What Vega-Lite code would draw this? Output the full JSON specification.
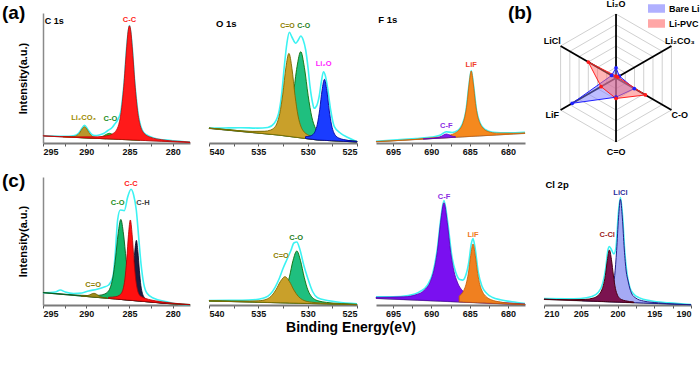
{
"$schema":"https://vega.github.io/schema/vega-lite/v6.json",
"background":"white",
"padding":{"left":2,"top":0,"right":0,"bottom":4},
"config":{
"view":{"stroke":null},
"font":"Liberation Sans",
"text":{"font":"Liberation Sans","fontWeight":"bold"},
"axisX":{"domainColor":"#7a7a7a","domainWidth":2.2,"tickColor":"#555555","tickSize":3,"tickWidth":1,"labelFont":"Liberation Sans","labelFontSize":9,"labelFontWeight":"bold","labelColor":"#111111","labelPadding":1,"grid":false},
"axisY":{"grid":false}
},
"title":{"text":"Binding Energy(eV)","orient":"bottom","anchor":"middle","fontSize":14,"fontWeight":"bold","font":"Liberation Sans","color":"#000000","offset":3},
"columns":4,
"spacing":{"row":34,"column":19},
"align":"each",
"bounds":"flush",
"resolve":{"scale":{"x":"independent","y":"independent","fill":"independent","stroke":"independent","size":"independent","color":"independent"},"axis":{"x":"independent","y":"independent"}},
"datasets":{
"a1":[
{"c":"bg","x":295,"hi":7},{"c":"bg","x":278,"hi":0.5},
{"c":"env","x":295,"hi":7.2},{"c":"env","x":294,"hi":6.9},{"c":"env","x":293,"hi":6.8},{"c":"env","x":292,"hi":6.8},{"c":"env","x":291.5,"hi":7.1},{"c":"env","x":291,"hi":8.8},{"c":"env","x":290.6,"hi":13.3},{"c":"env","x":290.2,"hi":17.8},{"c":"env","x":289.8,"hi":13.3},{"c":"env","x":289.4,"hi":8.8},{"c":"env","x":289,"hi":7.4},{"c":"env","x":288.5,"hi":8},{"c":"env","x":288,"hi":9.5},{"c":"env","x":287.5,"hi":12.5},{"c":"env","x":287,"hi":15.5},{"c":"env","x":286.7,"hi":19},{"c":"env","x":286.4,"hi":22.5},{"c":"env","x":286.2,"hi":26},{"c":"env","x":286,"hi":31.5},{"c":"env","x":285.8,"hi":45},{"c":"env","x":285.6,"hi":62.5},{"c":"env","x":285.3,"hi":98.2},{"c":"env","x":285,"hi":117.5},{"c":"env","x":284.7,"hi":97.9},{"c":"env","x":284.4,"hi":61.8},{"c":"env","x":284.2,"hi":44},{"c":"env","x":284,"hi":29.5},{"c":"env","x":283.7,"hi":17},{"c":"env","x":283.5,"hi":12.5},{"c":"env","x":283,"hi":8},{"c":"env","x":282,"hi":4.6},{"c":"env","x":281,"hi":3.1},{"c":"env","x":280,"hi":2.2},{"c":"env","x":278,"hi":1},
{"c":"L2C","x":292.7,"lo":6.12,"hi":6.33},{"c":"L2C","x":291.7,"lo":5.74,"hi":6.31},{"c":"L2C","x":291.2,"lo":5.55,"hi":7},{"c":"L2C","x":290.95,"lo":5.45,"hi":8.35},{"c":"L2C","x":290.7,"lo":5.36,"hi":10.91},{"c":"L2C","x":290.45,"lo":5.26,"hi":14.36},{"c":"L2C","x":290.2,"lo":5.17,"hi":16.27},{"c":"L2C","x":289.95,"lo":5.07,"hi":14.17},{"c":"L2C","x":289.7,"lo":4.97,"hi":10.52},{"c":"L2C","x":289.45,"lo":4.88,"hi":7.78},{"c":"L2C","x":289.2,"lo":4.78,"hi":6.23},{"c":"L2C","x":288.7,"lo":4.59,"hi":5.16},{"c":"L2C","x":287.7,"lo":4.21,"hi":4.42},
{"c":"CO","x":290.8,"lo":5.4,"hi":5.51},{"c":"CO","x":289.4,"lo":4.86,"hi":5.15},{"c":"CO","x":288.7,"lo":4.59,"hi":5.32},{"c":"CO","x":288.35,"lo":4.45,"hi":5.9},{"c":"CO","x":288,"lo":4.32,"hi":7.12},{"c":"CO","x":287.65,"lo":4.19,"hi":8.78},{"c":"CO","x":287.3,"lo":4.06,"hi":9.66},{"c":"CO","x":286.95,"lo":3.92,"hi":8.51},{"c":"CO","x":286.6,"lo":3.78,"hi":6.58},{"c":"CO","x":286.25,"lo":3.66,"hi":5.11},{"c":"CO","x":285.9,"lo":3.52,"hi":4.25},{"c":"CO","x":285.2,"lo":3.25,"hi":3.54},{"c":"CO","x":283.8,"lo":2.72,"hi":2.83},
{"c":"CC","x":295,"lo":7,"hi":7.22},{"c":"CC","x":291.2,"lo":5.55,"hi":6.12},{"c":"CC","x":288.72,"lo":4.6,"hi":6.14},{"c":"CC","x":287.48,"lo":4.13,"hi":7.48},{"c":"CC","x":286.86,"lo":3.89,"hi":9.69},{"c":"CC","x":286.55,"lo":3.77,"hi":12.37},{"c":"CC","x":286.24,"lo":3.65,"hi":18.55},{"c":"CC","x":285.93,"lo":3.53,"hi":33.03},{"c":"CC","x":285.78,"lo":3.48,"hi":44.98},{"c":"CC","x":285.62,"lo":3.41,"hi":60.41},{"c":"CC","x":285.47,"lo":3.36,"hi":78.46},{"c":"CC","x":285.31,"lo":3.3,"hi":96.8},{"c":"CC","x":285.16,"lo":3.24,"hi":111.54},{"c":"CC","x":285,"lo":3.18,"hi":117.18},{"c":"CC","x":284.84,"lo":3.12,"hi":111.42},{"c":"CC","x":284.69,"lo":3.06,"hi":96.56},{"c":"CC","x":284.53,"lo":3,"hi":78.1},{"c":"CC","x":284.38,"lo":2.94,"hi":59.94},{"c":"CC","x":284.22,"lo":2.88,"hi":44.38},{"c":"CC","x":284.07,"lo":2.82,"hi":32.32},{"c":"CC","x":283.76,"lo":2.7,"hi":17.6},{"c":"CC","x":283.45,"lo":2.58,"hi":11.18},{"c":"CC","x":283.14,"lo":2.47,"hi":8.27},{"c":"CC","x":282.52,"lo":2.23,"hi":5.58},{"c":"CC","x":281.28,"lo":1.75,"hi":3.29},{"c":"CC","x":278.8,"lo":0.81,"hi":1.38},{"c":"CC","x":278,"lo":0.5,"hi":0.94}
],
"a2":[
{"c":"bg","x":540,"hi":14.7},{"c":"bg","x":535,"hi":9.9},{"c":"bg","x":533,"hi":8},{"c":"bg","x":531,"hi":5.5},{"c":"bg","x":529,"hi":3},{"c":"bg","x":527,"hi":2},{"c":"bg","x":525,"hi":1},
{"c":"env","x":540,"hi":14.7},{"c":"env","x":538.5,"hi":15},{"c":"env","x":536.8,"hi":15.3},{"c":"env","x":535.1,"hi":14.9},{"c":"env","x":534.05,"hi":15.5},{"c":"env","x":533.38,"hi":19.7},{"c":"env","x":532.87,"hi":33},{"c":"env","x":532.6,"hi":52},{"c":"env","x":532.37,"hi":76.3},{"c":"env","x":532.1,"hi":100},{"c":"env","x":531.86,"hi":110.7},{"c":"env","x":531.6,"hi":106},{"c":"env","x":531.2,"hi":99.7},{"c":"env","x":530.95,"hi":103},{"c":"env","x":530.7,"hi":107},{"c":"env","x":530.45,"hi":103},{"c":"env","x":530.2,"hi":93},{"c":"env","x":529.96,"hi":75},{"c":"env","x":529.76,"hi":56.3},{"c":"env","x":529.5,"hi":40},{"c":"env","x":529.35,"hi":34.7},{"c":"env","x":529.1,"hi":37},{"c":"env","x":528.84,"hi":46.3},{"c":"env","x":528.6,"hi":62},{"c":"env","x":528.4,"hi":71.3},{"c":"env","x":528.2,"hi":67},{"c":"env","x":528,"hi":56.3},{"c":"env","x":527.67,"hi":33},{"c":"env","x":527.3,"hi":16.3},{"c":"env","x":526.65,"hi":9.7},{"c":"env","x":525.97,"hi":5.7},{"c":"env","x":525.06,"hi":1.5},
{"c":"CO","x":540,"lo":14.7,"hi":14.98},{"c":"CO","x":538.2,"lo":12.98,"hi":13.41},{"c":"CO","x":535.2,"lo":10.11,"hi":11.27},{"c":"CO","x":533.7,"lo":8.67,"hi":11.2},{"c":"CO","x":532.95,"lo":7.94,"hi":12.34},{"c":"CO","x":532.58,"lo":7.48,"hi":14},{"c":"CO","x":532.2,"lo":7,"hi":18.3},{"c":"CO","x":531.83,"lo":6.54,"hi":28.84},{"c":"CO","x":531.45,"lo":6.06,"hi":49.16},{"c":"CO","x":531.08,"lo":5.6,"hi":76.3},{"c":"CO","x":530.7,"lo":5.13,"hi":91.33},{"c":"CO","x":530.33,"lo":4.66,"hi":75.36},{"c":"CO","x":529.95,"lo":4.19,"hi":47.29},{"c":"CO","x":529.58,"lo":3.73,"hi":26.03},{"c":"CO","x":529.2,"lo":3.25,"hi":14.55},{"c":"CO","x":528.83,"lo":2.92,"hi":9.44},{"c":"CO","x":528.45,"lo":2.73,"hi":7.13},{"c":"CO","x":527.7,"lo":2.35,"hi":4.88},{"c":"CO","x":526.2,"lo":1.6,"hi":2.76},{"c":"CO","x":525,"lo":1,"hi":1.73},
{"c":"CdO","x":540,"lo":14.7,"hi":14.94},{"c":"CdO","x":538.1,"lo":12.88,"hi":13.3},{"c":"CdO","x":535.62,"lo":10.51,"hi":11.63},{"c":"CdO","x":534.38,"lo":9.32,"hi":11.76},{"c":"CdO","x":533.76,"lo":8.73,"hi":12.96},{"c":"CdO","x":533.45,"lo":8.43,"hi":14.7},{"c":"CdO","x":533.14,"lo":8.13,"hi":19.03},{"c":"CdO","x":532.83,"lo":7.79,"hi":29.29},{"c":"CdO","x":532.52,"lo":7.4,"hi":48.9},{"c":"CdO","x":532.21,"lo":7.01,"hi":75.11},{"c":"CdO","x":531.9,"lo":6.63,"hi":89.63},{"c":"CdO","x":531.59,"lo":6.24,"hi":74.34},{"c":"CdO","x":531.28,"lo":5.85,"hi":47.35},{"c":"CdO","x":530.97,"lo":5.46,"hi":26.96},{"c":"CdO","x":530.66,"lo":5.08,"hi":15.98},{"c":"CdO","x":530.35,"lo":4.69,"hi":10.96},{"c":"CdO","x":530.04,"lo":4.3,"hi":8.53},{"c":"CdO","x":529.42,"lo":3.53,"hi":5.97},{"c":"CdO","x":528.18,"lo":2.59,"hi":3.71},{"c":"CdO","x":525.7,"lo":1.35,"hi":1.77},{"c":"CdO","x":525,"lo":1,"hi":1.33},
{"c":"L2O","x":530.22,"lo":4.53,"hi":6.32},{"c":"L2O","x":529.74,"lo":3.93,"hi":7.04},{"c":"L2O","x":529.5,"lo":3.63,"hi":8.24},{"c":"L2O","x":529.26,"lo":3.33,"hi":11.33},{"c":"L2O","x":529.02,"lo":3.03,"hi":18.83},{"c":"L2O","x":528.78,"lo":2.89,"hi":33.39},{"c":"L2O","x":528.54,"lo":2.77,"hi":52.77},{"c":"L2O","x":528.3,"lo":2.65,"hi":63.65},{"c":"L2O","x":528.06,"lo":2.53,"hi":52.53},{"c":"L2O","x":527.82,"lo":2.41,"hi":32.91},{"c":"L2O","x":527.58,"lo":2.29,"hi":18.09},{"c":"L2O","x":527.34,"lo":2.17,"hi":10.17},{"c":"L2O","x":527.1,"lo":2.05,"hi":6.66},{"c":"L2O","x":526.86,"lo":1.93,"hi":5.04},{"c":"L2O","x":526.38,"lo":1.69,"hi":3.48},{"c":"L2O","x":525.42,"lo":1.21,"hi":2.03},{"c":"L2O","x":525,"lo":1,"hi":1.64}
],
"a3":[
{"c":"bg","x":697.2,"hi":1.3},{"c":"bg","x":677.8,"hi":9.7},
{"c":"env","x":697.2,"hi":1.8},{"c":"env","x":694,"hi":3.4},{"c":"env","x":692,"hi":4.5},{"c":"env","x":690.5,"hi":5.4},{"c":"env","x":689.5,"hi":6.4},{"c":"env","x":688.8,"hi":8},{"c":"env","x":688.05,"hi":11.3},{"c":"env","x":687.3,"hi":10.5},{"c":"env","x":686.6,"hi":12.3},{"c":"env","x":686,"hi":18.1},{"c":"env","x":685.5,"hi":31.7},{"c":"env","x":685.1,"hi":57.3},{"c":"env","x":684.8,"hi":72.5},{"c":"env","x":684.5,"hi":57.6},{"c":"env","x":684.1,"hi":32.3},{"c":"env","x":683.6,"hi":19.1},{"c":"env","x":683,"hi":13.5},{"c":"env","x":682,"hi":10.8},{"c":"env","x":680,"hi":10.1},{"c":"env","x":677.8,"hi":10.6},
{"c":"LiF","x":697.2,"lo":1.3,"hi":1.43},{"c":"LiF","x":690.3,"lo":4.29,"hi":4.94},{"c":"LiF","x":688.1,"lo":5.24,"hi":7},{"c":"LiF","x":687,"lo":5.72,"hi":9.56},{"c":"LiF","x":686.45,"lo":5.95,"hi":12.48},{"c":"LiF","x":685.9,"lo":6.19,"hi":19.25},{"c":"LiF","x":685.63,"lo":6.31,"hi":26.39},{"c":"LiF","x":685.35,"lo":6.43,"hi":39.08},{"c":"LiF","x":685.08,"lo":6.55,"hi":58.75},{"c":"LiF","x":684.8,"lo":6.67,"hi":71.97},{"c":"LiF","x":684.53,"lo":6.79,"hi":58.99},{"c":"LiF","x":684.25,"lo":6.91,"hi":39.56},{"c":"LiF","x":683.98,"lo":7.02,"hi":27.12},{"c":"LiF","x":683.7,"lo":7.15,"hi":20.21},{"c":"LiF","x":683.15,"lo":7.38,"hi":13.91},{"c":"LiF","x":682.6,"lo":7.62,"hi":11.46},{"c":"LiF","x":681.5,"lo":8.1,"hi":9.86},{"c":"LiF","x":679.3,"lo":9.05,"hi":9.7},{"c":"LiF","x":677.8,"lo":9.7,"hi":10.1},
{"c":"CF","x":691.05,"lo":3.96,"hi":4.03},{"c":"CF","x":689.85,"lo":4.48,"hi":4.67},{"c":"CF","x":689.25,"lo":4.74,"hi":5.22},{"c":"CF","x":688.95,"lo":4.87,"hi":5.83},{"c":"CF","x":688.65,"lo":5,"hi":6.85},{"c":"CF","x":688.35,"lo":5.13,"hi":8.16},{"c":"CF","x":688.05,"lo":5.26,"hi":8.96},{"c":"CF","x":687.75,"lo":5.39,"hi":8.42},{"c":"CF","x":687.45,"lo":5.52,"hi":7.37},{"c":"CF","x":687.15,"lo":5.65,"hi":6.61},{"c":"CF","x":686.85,"lo":5.78,"hi":6.26}
],
"b1":[
{"c":"bg","x":295,"hi":12.3},{"c":"bg","x":279,"hi":0.3},{"c":"bg","x":278,"hi":0.3},
{"c":"env","x":295,"hi":12.3},{"c":"env","x":293.58,"hi":13},{"c":"env","x":293,"hi":15},{"c":"env","x":292.42,"hi":13},{"c":"env","x":291.46,"hi":11.5},{"c":"env","x":290.49,"hi":12},{"c":"env","x":289.73,"hi":14},{"c":"env","x":288.76,"hi":15.7},{"c":"env","x":288,"hi":17.7},{"c":"env","x":287.41,"hi":20},{"c":"env","x":286.91,"hi":28.3},{"c":"env","x":286.64,"hi":51.7},{"c":"env","x":286.37,"hi":85},{"c":"env","x":286.06,"hi":95},{"c":"env","x":285.6,"hi":94.3},{"c":"env","x":285.2,"hi":108.3},{"c":"env","x":284.82,"hi":115.7},{"c":"env","x":284.52,"hi":110},{"c":"env","x":284.21,"hi":95},{"c":"env","x":283.94,"hi":68.3},{"c":"env","x":283.67,"hi":41.7},{"c":"env","x":283.36,"hi":21.7},{"c":"env","x":282.97,"hi":11.7},{"c":"env","x":282.2,"hi":6.7},{"c":"env","x":280.66,"hi":3.3},{"c":"env","x":279.12,"hi":0.5},{"c":"env","x":278,"hi":0.3},
{"c":"CO","x":295,"lo":12.3,"hi":12.49},{"c":"CO","x":292.2,"lo":10.2,"hi":10.6},{"c":"CO","x":289.72,"lo":8.34,"hi":9.42},{"c":"CO","x":288.48,"lo":7.41,"hi":9.76},{"c":"CO","x":287.86,"lo":6.95,"hi":11.03},{"c":"CO","x":287.55,"lo":6.71,"hi":12.76},{"c":"CO","x":287.24,"lo":6.48,"hi":16.98},{"c":"CO","x":286.93,"lo":6.25,"hi":26.95},{"c":"CO","x":286.62,"lo":6.02,"hi":46.02},{"c":"CO","x":286.31,"lo":5.78,"hi":71.38},{"c":"CO","x":286,"lo":5.55,"hi":85.55},{"c":"CO","x":285.69,"lo":5.32,"hi":70.92},{"c":"CO","x":285.38,"lo":5.09,"hi":45.09},{"c":"CO","x":285.07,"lo":4.85,"hi":25.55},{"c":"CO","x":284.76,"lo":4.62,"hi":15.12},{"c":"CO","x":284.45,"lo":4.39,"hi":10.44},{"c":"CO","x":284.14,"lo":4.16,"hi":8.24},{"c":"CO","x":283.52,"lo":3.69,"hi":6.04},{"c":"CO","x":282.28,"lo":2.76,"hi":3.84},{"c":"CO","x":279.8,"lo":0.9,"hi":1.3},{"c":"CO","x":278,"lo":0.3,"hi":0.54},
{"c":"CdO","x":290.6,"lo":9,"hi":9.19},{"c":"CdO","x":290.1,"lo":8.63,"hi":9.13},{"c":"CdO","x":289.85,"lo":8.44,"hi":9.42},{"c":"CdO","x":289.6,"lo":8.25,"hi":10.15},{"c":"CdO","x":289.35,"lo":8.06,"hi":11.18},{"c":"CdO","x":289.1,"lo":7.88,"hi":11.68},{"c":"CdO","x":288.85,"lo":7.69,"hi":11},{"c":"CdO","x":288.6,"lo":7.5,"hi":9.4},{"c":"CdO","x":288.35,"lo":7.31,"hi":8.29},{"c":"CdO","x":288.1,"lo":7.13,"hi":7.63},{"c":"CdO","x":287.6,"lo":6.75,"hi":6.94},
{"c":"CH","x":286.3,"lo":5.78,"hi":6.6},{"c":"CH","x":285.6,"lo":5.25,"hi":7.03},{"c":"CH","x":285.25,"lo":4.99,"hi":8.08},{"c":"CH","x":285.08,"lo":4.86,"hi":9.43},{"c":"CH","x":284.9,"lo":4.73,"hi":12.66},{"c":"CH","x":284.73,"lo":4.6,"hi":20.3},{"c":"CH","x":284.55,"lo":4.46,"hi":34.71},{"c":"CH","x":284.38,"lo":4.34,"hi":53.94},{"c":"CH","x":284.2,"lo":4.2,"hi":64.7},{"c":"CH","x":284.03,"lo":4.07,"hi":53.67},{"c":"CH","x":283.85,"lo":3.94,"hi":34.19},{"c":"CH","x":283.68,"lo":3.81,"hi":19.51},{"c":"CH","x":283.5,"lo":3.68,"hi":11.61},{"c":"CH","x":283.33,"lo":3.55,"hi":8.12},{"c":"CH","x":283.15,"lo":3.41,"hi":5.6},{"c":"CH","x":282.8,"lo":3.15,"hi":4.2},{"c":"CH","x":282.1,"lo":2.63,"hi":3},{"c":"CH","x":280.7,"lo":1.58,"hi":1.7},
{"c":"CC","x":287.42,"lo":6.62,"hi":7.7},{"c":"CC","x":286.58,"lo":5.99,"hi":8.35},{"c":"CC","x":286.16,"lo":5.67,"hi":9.77},{"c":"CC","x":285.95,"lo":5.51,"hi":11.58},{"c":"CC","x":285.74,"lo":5.36,"hi":15.86},{"c":"CC","x":285.53,"lo":5.2,"hi":25.95},{"c":"CC","x":285.32,"lo":5.04,"hi":45.19},{"c":"CC","x":285.11,"lo":4.88,"hi":70.68},{"c":"CC","x":284.9,"lo":4.73,"hi":85.03},{"c":"CC","x":284.69,"lo":4.57,"hi":70.37},{"c":"CC","x":284.48,"lo":4.41,"hi":44.56},{"c":"CC","x":284.27,"lo":4.25,"hi":25.05},{"c":"CC","x":284.06,"lo":4.1,"hi":14.6},{"c":"CC","x":283.85,"lo":3.94,"hi":10.01},{"c":"CC","x":283.64,"lo":3.78,"hi":8.5},{"c":"CC","x":283.22,"lo":3.47,"hi":6.8},{"c":"CC","x":282.38,"lo":2.84,"hi":4.8},{"c":"CC","x":280.7,"lo":1.58,"hi":2.6},{"c":"CC","x":278,"lo":0.3,"hi":0.45}
],
"b2":[
{"c":"bg","x":540,"hi":4.05},{"c":"bg","x":525,"hi":0.3},
{"c":"env","x":540,"hi":4.4},{"c":"env","x":538,"hi":4.6},{"c":"env","x":536,"hi":5},{"c":"env","x":535,"hi":5.8},{"c":"env","x":534.3,"hi":7.4},{"c":"env","x":533.8,"hi":10.8},{"c":"env","x":533.3,"hi":17.7},{"c":"env","x":532.9,"hi":26},{"c":"env","x":532.5,"hi":36.5},{"c":"env","x":532.1,"hi":45.5},{"c":"env","x":531.7,"hi":54.5},{"c":"env","x":531.4,"hi":62},{"c":"env","x":531.1,"hi":63},{"c":"env","x":530.8,"hi":56},{"c":"env","x":530.4,"hi":40},{"c":"env","x":530,"hi":27},{"c":"env","x":529.5,"hi":13.5},{"c":"env","x":529,"hi":7.2},{"c":"env","x":528,"hi":4.5},{"c":"env","x":527,"hi":3},{"c":"env","x":525,"hi":1.2},
{"c":"CO","x":540,"lo":4.05,"hi":4.23},{"c":"CO","x":538.6,"lo":3.7,"hi":3.96},{"c":"CO","x":535.6,"lo":2.95,"hi":3.65},{"c":"CO","x":534.1,"lo":2.58,"hi":4.11},{"c":"CO","x":533.35,"lo":2.39,"hi":5.05},{"c":"CO","x":532.98,"lo":2.3,"hi":6.25},{"c":"CO","x":532.6,"lo":2.2,"hi":9.04},{"c":"CO","x":532.23,"lo":2.11,"hi":15.61},{"c":"CO","x":531.85,"lo":2.01,"hi":28.11},{"c":"CO","x":531.48,"lo":1.92,"hi":44.72},{"c":"CO","x":531.1,"lo":1.83,"hi":54.03},{"c":"CO","x":530.73,"lo":1.73,"hi":44.53},{"c":"CO","x":530.35,"lo":1.64,"hi":27.74},{"c":"CO","x":529.98,"lo":1.55,"hi":15.05},{"c":"CO","x":529.6,"lo":1.45,"hi":8.29},{"c":"CO","x":529.23,"lo":1.36,"hi":5.31},{"c":"CO","x":528.85,"lo":1.26,"hi":3.92},{"c":"CO","x":528.1,"lo":1.08,"hi":2.61},{"c":"CO","x":526.6,"lo":0.7,"hi":1.4},{"c":"CO","x":525,"lo":0.3,"hi":0.69},
{"c":"CdO","x":540,"lo":4.05,"hi":4.23},{"c":"CdO","x":537.7,"lo":3.48,"hi":3.83},{"c":"CdO","x":535.9,"lo":3.03,"hi":3.8},{"c":"CdO","x":535,"lo":2.8,"hi":4.14},{"c":"CdO","x":534.55,"lo":2.69,"hi":4.67},{"c":"CdO","x":534.1,"lo":2.58,"hi":6.01},{"c":"CdO","x":533.65,"lo":2.46,"hi":9.25},{"c":"CdO","x":533.2,"lo":2.35,"hi":15.45},{"c":"CdO","x":532.75,"lo":2.24,"hi":23.74},{"c":"CdO","x":532.3,"lo":2.13,"hi":28.33},{"c":"CdO","x":531.85,"lo":2.01,"hi":23.51},{"c":"CdO","x":531.4,"lo":1.9,"hi":15},{"c":"CdO","x":530.95,"lo":1.79,"hi":8.58},{"c":"CdO","x":530.5,"lo":1.68,"hi":5.11},{"c":"CdO","x":530.05,"lo":1.56,"hi":3.54},{"c":"CdO","x":529.6,"lo":1.45,"hi":2.79},{"c":"CdO","x":528.7,"lo":1.23,"hi":2},{"c":"CdO","x":526.9,"lo":0.78,"hi":1.13},{"c":"CdO","x":525,"lo":0.3,"hi":0.5}
],
"b3":[
{"c":"bg","x":697.2,"hi":6.7},{"c":"bg","x":677.8,"hi":0.3},
{"c":"env","x":697.2,"hi":8.3},{"c":"env","x":695,"hi":8.3},{"c":"env","x":693,"hi":9.5},{"c":"env","x":691.5,"hi":13.3},{"c":"env","x":690.5,"hi":19.9},{"c":"env","x":689.8,"hi":32},{"c":"env","x":689.2,"hi":57},{"c":"env","x":688.8,"hi":84},{"c":"env","x":688.35,"hi":104.5},{"c":"env","x":687.9,"hi":84.7},{"c":"env","x":687.3,"hi":47.6},{"c":"env","x":686.8,"hi":32.3},{"c":"env","x":686.3,"hi":25.4},{"c":"env","x":685.9,"hi":24.9},{"c":"env","x":685.5,"hi":29.9},{"c":"env","x":685.1,"hi":43.7},{"c":"env","x":684.8,"hi":60.8},{"c":"env","x":684.57,"hi":66.4},{"c":"env","x":684.3,"hi":57},{"c":"env","x":683.9,"hi":33.4},{"c":"env","x":683.4,"hi":18.8},{"c":"env","x":682.8,"hi":11.8},{"c":"env","x":682,"hi":7.5},{"c":"env","x":681,"hi":5.2},{"c":"env","x":679.5,"hi":3.2},{"c":"env","x":677.8,"hi":1.43},
{"c":"CF","x":697.2,"lo":6.7,"hi":7.64},{"c":"CF","x":693.57,"lo":5.5,"hi":8.16},{"c":"CF","x":691.83,"lo":4.93,"hi":10.72},{"c":"CF","x":690.96,"lo":4.64,"hi":14.49},{"c":"CF","x":690.09,"lo":4.36,"hi":24.06},{"c":"CF","x":689.66,"lo":4.21,"hi":34.51},{"c":"CF","x":689.22,"lo":4.07,"hi":53.32},{"c":"CF","x":688.79,"lo":3.93,"hi":82.73},{"c":"CF","x":688.35,"lo":3.78,"hi":102.28},{"c":"CF","x":687.92,"lo":3.64,"hi":82.44},{"c":"CF","x":687.48,"lo":3.49,"hi":52.74},{"c":"CF","x":687.05,"lo":3.35,"hi":33.65},{"c":"CF","x":686.61,"lo":3.21,"hi":22.91},{"c":"CF","x":685.74,"lo":2.92,"hi":12.77},{"c":"CF","x":684.87,"lo":2.63,"hi":8.42},{"c":"CF","x":683.13,"lo":2.06,"hi":4.72},{"c":"CF","x":679.65,"lo":0.91,"hi":1.89},{"c":"CF","x":677.8,"lo":0.3,"hi":0.97},
{"c":"LiF","x":686.37,"lo":3.13,"hi":8.98},{"c":"LiF","x":685.77,"lo":2.93,"hi":14.63},{"c":"LiF","x":685.47,"lo":2.83,"hi":20.83},{"c":"LiF","x":685.17,"lo":2.73,"hi":32},{"c":"LiF","x":684.87,"lo":2.63,"hi":49.43},{"c":"LiF","x":684.57,"lo":2.53,"hi":61.03},{"c":"LiF","x":684.27,"lo":2.43,"hi":49.23},{"c":"LiF","x":683.97,"lo":2.33,"hi":31.58},{"c":"LiF","x":683.67,"lo":2.23,"hi":20.23},{"c":"LiF","x":683.37,"lo":2.14,"hi":13.84},{"c":"LiF","x":682.77,"lo":1.94,"hi":7.79},{"c":"LiF","x":682.17,"lo":1.74,"hi":5.18},{"c":"LiF","x":680.97,"lo":1.35,"hi":2.93},{"c":"LiF","x":678.57,"lo":0.55,"hi":1.12},{"c":"LiF","x":677.8,"lo":0.3,"hi":0.87}
],
"b4":[
{"c":"bg","x":210,"hi":5.7},{"c":"bg","x":190,"hi":0.2},
{"c":"env","x":210,"hi":6.5},{"c":"env","x":207,"hi":6.3},{"c":"env","x":205,"hi":6.5},{"c":"env","x":203.5,"hi":8.4},{"c":"env","x":202.6,"hi":12.8},{"c":"env","x":202,"hi":21.9},{"c":"env","x":201.6,"hi":37},{"c":"env","x":201.3,"hi":55},{"c":"env","x":201.1,"hi":58.5},{"c":"env","x":200.8,"hi":55},{"c":"env","x":200.5,"hi":51},{"c":"env","x":200.2,"hi":58},{"c":"env","x":199.9,"hi":90},{"c":"env","x":199.6,"hi":107.5},{"c":"env","x":199.3,"hi":88},{"c":"env","x":199,"hi":52},{"c":"env","x":198.7,"hi":31},{"c":"env","x":198.3,"hi":17},{"c":"env","x":197.8,"hi":11},{"c":"env","x":197,"hi":7.1},{"c":"env","x":195.5,"hi":4.2},{"c":"env","x":193,"hi":2.1},{"c":"env","x":190,"hi":0.5},
{"c":"LiCl","x":204.8,"lo":4.27,"hi":4.78},{"c":"LiCl","x":202.72,"lo":3.7,"hi":5.09},{"c":"LiCl","x":201.68,"lo":3.41,"hi":6.43},{"c":"LiCl","x":201.16,"lo":3.27,"hi":8.51},{"c":"LiCl","x":200.9,"lo":3.2,"hi":10.97},{"c":"LiCl","x":200.64,"lo":3.13,"hi":16.63},{"c":"LiCl","x":200.38,"lo":3.05,"hi":29.65},{"c":"LiCl","x":200.12,"lo":2.98,"hi":54.38},{"c":"LiCl","x":199.86,"lo":2.91,"hi":87.21},{"c":"LiCl","x":199.6,"lo":2.84,"hi":105.64},{"c":"LiCl","x":199.34,"lo":2.77,"hi":87.07},{"c":"LiCl","x":199.08,"lo":2.7,"hi":56},{"c":"LiCl","x":198.82,"lo":2.63,"hi":34},{"c":"LiCl","x":198.56,"lo":2.55,"hi":24},{"c":"LiCl","x":198.3,"lo":2.48,"hi":16},{"c":"LiCl","x":198.04,"lo":2.41,"hi":11},{"c":"LiCl","x":197.52,"lo":2.27,"hi":7},{"c":"LiCl","x":196.48,"lo":1.98,"hi":4},{"c":"LiCl","x":194.4,"lo":1.41,"hi":2.1},{"c":"LiCl","x":190,"lo":0.2,"hi":0.35},
{"c":"CCl","x":210,"lo":5.7,"hi":5.9},{"c":"CCl","x":206.6,"lo":4.77,"hi":5.28},{"c":"CCl","x":204.4,"lo":4.16,"hi":5.56},{"c":"CCl","x":203.3,"lo":3.86,"hi":6.91},{"c":"CCl","x":202.75,"lo":3.71,"hi":8.89},{"c":"CCl","x":202.2,"lo":3.56,"hi":13.96},{"c":"CCl","x":201.93,"lo":3.48,"hi":19.38},{"c":"CCl","x":201.65,"lo":3.4,"hi":29.3},{"c":"CCl","x":201.38,"lo":3.33,"hi":44.73},{"c":"CCl","x":201.1,"lo":3.25,"hi":55.05},{"c":"CCl","x":200.83,"lo":3.18,"hi":45.68},{"c":"CCl","x":200.55,"lo":3.1,"hi":29},{"c":"CCl","x":200.28,"lo":3.03,"hi":16.43},{"c":"CCl","x":200,"lo":2.95,"hi":9.75},{"c":"CCl","x":199.72,"lo":2.88,"hi":6.78},{"c":"CCl","x":199.45,"lo":2.8,"hi":5.44},{"c":"CCl","x":198.9,"lo":2.65,"hi":4.17},{"c":"CCl","x":197.8,"lo":2.35,"hi":3.05}
],
"rings":[{"lvl":0.1667},{"lvl":0.3333},{"lvl":0.5},{"lvl":0.6667},{"lvl":0.8333},{"lvl":1}],
"axes":[{"axis":"Li₂O","ang":90,"k":0},{"axis":"Li₂CO₃","ang":30,"k":1},{"axis":"C-O","ang":-30,"k":2},{"axis":"C=O","ang":-90,"k":3},{"axis":"LiF","ang":-150,"k":4},{"axis":"LiCl","ang":150,"k":5}],
"radar":[
{"s":"Bare Li","axis":"Li₂O","v":0.16},{"s":"Bare Li","axis":"Li₂CO₃","v":0.06},{"s":"Bare Li","axis":"C-O","v":0.33},{"s":"Bare Li","axis":"C=O","v":0.3},{"s":"Bare Li","axis":"LiF","v":0.79},{"s":"Bare Li","axis":"LiCl","v":0.08},
{"s":"Li-PVC","axis":"Li₂O","v":0.03},{"s":"Li-PVC","axis":"Li₂CO₃","v":0.03},{"s":"Li-PVC","axis":"C-O","v":0.53},{"s":"Li-PVC","axis":"C=O","v":0.32},{"s":"Li-PVC","axis":"LiF","v":0.27},{"s":"Li-PVC","axis":"LiCl","v":0.5}
]
},
"concat":[
{
"width":147,"height":130,"data":{"name":"a1"},
"encoding":{
"x":{"field":"x","type":"quantitative","scale":{"domain":[295,278],"nice":false,"zero":false},"axis":{"values":[295,292.5,290,287.5,285,282.5,280],"labelExpr":"datum.value % 5 === 0 ? datum.label : ''","title":null}},
"y":{"field":"hi","type":"quantitative","scale":{"domain":[0,130],"nice":false,"zero":false},"axis":{"title":"Intensity(a.u.)","labels":false,"ticks":false,"tickSize":0,"domainColor":"#8a8a8a","domainWidth":1.5,"titlePadding":15,"titleFontSize":11,"titleFontWeight":"bold","titleFont":"Liberation Sans","titleColor":"#000000"}}
},
"layer":[
{"transform":[{"filter":"datum.c==='bg'"}],"mark":{"type":"line","color":"#8a8a8a","strokeWidth":1.2}},
{"transform":[{"filter":"datum.c==='env'"}],"mark":{"type":"line","color":"#3cf2f2","strokeWidth":1.6,"interpolate":"monotone"}},
{"transform":[{"filter":"datum.c==='L2C'"}],"mark":{"type":"area","interpolate":"monotone","fill":"#b8962a","stroke":"#7d6500","strokeWidth":0.8,"fillOpacity":1},"encoding":{"y2":{"field":"lo"}}},
{"transform":[{"filter":"datum.c==='CO'"}],"mark":{"type":"area","interpolate":"monotone","fill":"#2ec42e","stroke":"#0b7a0b","strokeWidth":0.8,"fillOpacity":1},"encoding":{"y2":{"field":"lo"}}},
{"transform":[{"filter":"datum.c==='CC'"}],"mark":{"type":"area","interpolate":"monotone","fill":"#ff1a1a","stroke":"#c40000","strokeWidth":0.8,"fillOpacity":1},"encoding":{"y2":{"field":"lo"}}},
{"data":{"values":[{"x":299.74,"hi":130.5,"t":"(a)"}]},"mark":{"type":"text","fontSize":19,"align":"left","color":"#000000"},"encoding":{"text":{"field":"t","type":"nominal"}}},
{"data":{"values":[{"x":294.8,"hi":122,"t":"C 1s"}]},"mark":{"type":"text","fontSize":9,"align":"left","color":"#000000"},"encoding":{"text":{"field":"t","type":"nominal"}}},
{"data":{"values":[{"x":285,"hi":123,"t":"C-C"}]},"mark":{"type":"text","fontSize":7.5,"color":"#ff1a1a"},"encoding":{"text":{"field":"t","type":"nominal"}}},
{"data":{"values":[{"x":290.3,"hi":25,"t":"Li₂CO₃"}]},"mark":{"type":"text","fontSize":7.5,"color":"#9c8a00"},"encoding":{"text":{"field":"t","type":"nominal"}}},
{"data":{"values":[{"x":287.2,"hi":24,"t":"C-O"}]},"mark":{"type":"text","fontSize":7.5,"color":"#1c8c1c"},"encoding":{"text":{"field":"t","type":"nominal"}}}
]
},
{
"width":148,"height":130,"data":{"name":"a2"},
"encoding":{
"x":{"field":"x","type":"quantitative","scale":{"domain":[540,525],"nice":false,"zero":false},"axis":{"values":[540,537.5,535,532.5,530,527.5,525],"labelExpr":"datum.value % 5 === 0 ? datum.label : ''","title":null}},
"y":{"field":"hi","type":"quantitative","scale":{"domain":[0,130],"nice":false,"zero":false},"axis":null}
},
"layer":[
{"transform":[{"filter":"datum.c==='bg'"}],"mark":{"type":"line","color":"#8a8a8a","strokeWidth":1.2}},
{"transform":[{"filter":"datum.c==='env'"}],"mark":{"type":"line","color":"#3cf2f2","strokeWidth":1.6,"interpolate":"monotone"}},
{"transform":[{"filter":"datum.c==='CO'"}],"mark":{"type":"area","interpolate":"monotone","fill":"#1fbf7f","stroke":"#0a6e0a","strokeWidth":0.9,"fillOpacity":1},"encoding":{"y2":{"field":"lo"}}},
{"transform":[{"filter":"datum.c==='CdO'"}],"mark":{"type":"area","interpolate":"monotone","fill":"#c9a02a","stroke":"#7d6a00","strokeWidth":0.9,"fillOpacity":1},"encoding":{"y2":{"field":"lo"}}},
{"transform":[{"filter":"datum.c==='L2O'"}],"mark":{"type":"area","interpolate":"monotone","fill":"#1a3cff","stroke":"#0000a0","strokeWidth":0.9,"fillOpacity":1},"encoding":{"y2":{"field":"lo"}}},
{"data":{"values":[{"x":539.3,"hi":118.7,"t":"O 1s"}]},"mark":{"type":"text","fontSize":9.5,"align":"left","color":"#000000"},"encoding":{"text":{"field":"t","type":"nominal"}}},
{"data":{"values":[{"x":532.05,"hi":117,"t":"C=O"}]},"mark":{"type":"text","fontSize":7,"color":"#8c7e00"},"encoding":{"text":{"field":"t","type":"nominal"}}},
{"data":{"values":[{"x":530.4,"hi":117,"t":"C-O"}]},"mark":{"type":"text","fontSize":7,"color":"#1e7e1e"},"encoding":{"text":{"field":"t","type":"nominal"}}},
{"data":{"values":[{"x":528.38,"hi":78.7,"t":"Li₂O"}]},"mark":{"type":"text","fontSize":7.5,"color":"#ff20ff"},"encoding":{"text":{"field":"t","type":"nominal"}}}
]
},
{
"width":149,"height":130,"data":{"name":"a3"},
"encoding":{
"x":{"field":"x","type":"quantitative","scale":{"domain":[697.2,677.8],"nice":false,"zero":false},"axis":{"values":[695,692.5,690,687.5,685,682.5,680],"labelExpr":"datum.value % 5 === 0 ? datum.label : ''","title":null}},
"y":{"field":"hi","type":"quantitative","scale":{"domain":[0,130],"nice":false,"zero":false},"axis":null}
},
"layer":[
{"transform":[{"filter":"datum.c==='bg'"}],"mark":{"type":"line","color":"#7f8fa0","strokeWidth":1.2}},
{"transform":[{"filter":"datum.c==='env'"}],"mark":{"type":"line","color":"#3cf2f2","strokeWidth":1.6,"interpolate":"monotone"}},
{"transform":[{"filter":"datum.c==='LiF'"}],"mark":{"type":"area","interpolate":"monotone","fill":"#f5891e","stroke":"#d06000","strokeWidth":0.8,"fillOpacity":1},"encoding":{"y2":{"field":"lo"}}},
{"transform":[{"filter":"datum.c==='CF'"}],"mark":{"type":"area","interpolate":"monotone","fill":"#7f1ff0","stroke":"#5a00c0","strokeWidth":0.8,"fillOpacity":1},"encoding":{"y2":{"field":"lo"}}},
{"data":{"values":[{"x":696.9,"hi":123,"t":"F 1s"}]},"mark":{"type":"text","fontSize":9.5,"align":"left","color":"#000000"},"encoding":{"text":{"field":"t","type":"nominal"}}},
{"data":{"values":[{"x":684.8,"hi":77.7,"t":"LiF"}]},"mark":{"type":"text","fontSize":7.5,"color":"#f0402a"},"encoding":{"text":{"field":"t","type":"nominal"}}},
{"data":{"values":[{"x":688.05,"hi":17.3,"t":"C-F"}]},"mark":{"type":"text","fontSize":7.5,"color":"#8a2be2"},"encoding":{"text":{"field":"t","type":"nominal"}}},
{"data":{"values":[{"x":678.45,"hi":130,"t":"(b)"}]},"mark":{"type":"text","fontSize":19,"color":"#000000"},"encoding":{"text":{"field":"t","type":"nominal"}}}
]
},
{
"width":145,"height":130,
"layer":[
{"data":{"name":"rings"},"mark":{"type":"point","shape":"M0,-1L0.866,-0.5L0.866,0.5L0,1L-0.866,0.5L-0.866,-0.5Z","filled":false,"stroke":"#d0d0d0","strokeWidth":1,"opacity":1},
"encoding":{"x":{"datum":0,"type":"quantitative","scale":{"domain":[-1.125,1.14],"nice":false,"zero":false},"axis":null},"y":{"datum":0,"type":"quantitative","scale":{"domain":[-1.016,1.016],"nice":false,"zero":false},"axis":null},"size":{"field":"lvl","type":"quantitative","scale":{"type":"pow","exponent":2,"domain":[0,1],"range":[0,16384]},"legend":null}}},
{"data":{"name":"axes"},"transform":[{"calculate":"cos(datum.ang*PI/180)","as":"ax"},{"calculate":"sin(datum.ang*PI/180)","as":"ay"}],"mark":{"type":"rule","color":"#000000","strokeWidth":1.8},
"encoding":{"x":{"field":"ax","type":"quantitative"},"y":{"field":"ay","type":"quantitative"},"x2":{"datum":0},"y2":{"datum":0}}},
{"data":{"name":"radar"},"transform":[{"lookup":"axis","from":{"data":{"name":"axes"},"key":"axis","fields":["ang","k"]}},{"calculate":"datum.v*cos(datum.ang*PI/180)","as":"px"},{"calculate":"datum.v*sin(datum.ang*PI/180)","as":"py"}],
"mark":{"type":"line","interpolate":"linear-closed","fillOpacity":0.5,"strokeWidth":1},
"encoding":{"x":{"field":"px","type":"quantitative"},"y":{"field":"py","type":"quantitative"},"order":{"field":"k","type":"quantitative"},
"fill":{"field":"s","type":"nominal","scale":{"domain":["Bare Li","Li-PVC"],"range":["#7b7bff","#ff6b6b"]},"legend":{"orient":"none","legendX":104,"legendY":-13,"title":null,"symbolType":"M-1,-0.5L1,-0.5L1,0.5L-1,0.5Z","symbolSize":289,"symbolOpacity":0.6,"symbolStrokeWidth":0,"labelFont":"Liberation Sans","labelFontWeight":"bold","labelFontSize":9,"labelColor":"#000000","rowPadding":1,"padding":0,"labelOffset":4}},
"stroke":{"field":"s","type":"nominal","scale":{"domain":["Bare Li","Li-PVC"],"range":["#1f1fff","#ff2020"]},"legend":null}}},
{"data":{"name":"radar"},"transform":[{"lookup":"axis","from":{"data":{"name":"axes"},"key":"axis","fields":["ang","k"]}},{"calculate":"datum.v*cos(datum.ang*PI/180)","as":"px"},{"calculate":"datum.v*sin(datum.ang*PI/180)","as":"py"},{"filter":"datum.s==='Bare Li'"}],
"mark":{"type":"circle","color":"#1f1fff","size":14,"opacity":1},"encoding":{"x":{"field":"px","type":"quantitative"},"y":{"field":"py","type":"quantitative"}}},
{"data":{"name":"radar"},"transform":[{"lookup":"axis","from":{"data":{"name":"axes"},"key":"axis","fields":["ang","k"]}},{"calculate":"datum.v*cos(datum.ang*PI/180)","as":"px"},{"calculate":"datum.v*sin(datum.ang*PI/180)","as":"py"},{"filter":"datum.s==='Li-PVC'"}],
"mark":{"type":"circle","color":"#ff1a1a","size":14,"opacity":1},"encoding":{"x":{"field":"px","type":"quantitative"},"y":{"field":"py","type":"quantitative"}}},
{"data":{"name":"axes"},"transform":[{"calculate":"1.15*cos(datum.ang*PI/180)","as":"lx"},{"calculate":"1.15*sin(datum.ang*PI/180)","as":"ly"}],"mark":{"type":"text","fontSize":9,"color":"#000000"},
"encoding":{"x":{"field":"lx","type":"quantitative"},"y":{"field":"ly","type":"quantitative"},"text":{"field":"axis","type":"nominal"}}}
]
},
{
"width":147,"height":128,"data":{"name":"b1"},
"encoding":{
"x":{"field":"x","type":"quantitative","scale":{"domain":[295,278],"nice":false,"zero":false},"axis":{"values":[295,292.5,290,287.5,285,282.5,280],"labelExpr":"datum.value % 5 === 0 ? datum.label : ''","title":null}},
"y":{"field":"hi","type":"quantitative","scale":{"domain":[0,128],"nice":false,"zero":false},"axis":{"title":"Intensity(a.u.)","labels":false,"ticks":false,"tickSize":0,"domainColor":"#8a8a8a","domainWidth":1.5,"titlePadding":15,"titleFontSize":11,"titleFontWeight":"bold","titleFont":"Liberation Sans","titleColor":"#000000"}}
},
"layer":[
{"transform":[{"filter":"datum.c==='bg'"}],"mark":{"type":"line","color":"#6a6a6a","strokeWidth":1.2}},
{"transform":[{"filter":"datum.c==='env'"}],"mark":{"type":"line","color":"#3cf2f2","strokeWidth":1.6,"interpolate":"monotone"}},
{"transform":[{"filter":"datum.c==='CO'"}],"mark":{"type":"area","interpolate":"monotone","fill":"#12b566","stroke":"#0a5e1e","strokeWidth":0.9,"fillOpacity":1},"encoding":{"y2":{"field":"lo"}}},
{"transform":[{"filter":"datum.c==='CdO'"}],"mark":{"type":"area","interpolate":"monotone","fill":"#9b8a1a","stroke":"#6a5c00","strokeWidth":0.8,"fillOpacity":1},"encoding":{"y2":{"field":"lo"}}},
{"transform":[{"filter":"datum.c==='CH'"}],"mark":{"type":"area","interpolate":"monotone","fill":"#1c1c40","stroke":"#000020","strokeWidth":0.8,"fillOpacity":1},"encoding":{"y2":{"field":"lo"}}},
{"transform":[{"filter":"datum.c==='CC'"}],"mark":{"type":"area","interpolate":"monotone","fill":"#ff1010","stroke":"#b00000","strokeWidth":0.8,"fillOpacity":1},"encoding":{"y2":{"field":"lo"}}},
{"data":{"values":[{"x":299.74,"hi":124,"t":"(c)"}]},"mark":{"type":"text","fontSize":19,"align":"left","color":"#000000"},"encoding":{"text":{"field":"t","type":"nominal"}}},
{"data":{"values":[{"x":284.83,"hi":121,"t":"C-C"}]},"mark":{"type":"text","fontSize":7.5,"color":"#ff1a1a"},"encoding":{"text":{"field":"t","type":"nominal"}}},
{"data":{"values":[{"x":286.37,"hi":101.7,"t":"C-O"}]},"mark":{"type":"text","fontSize":7.5,"color":"#1c8c1c"},"encoding":{"text":{"field":"t","type":"nominal"}}},
{"data":{"values":[{"x":283.44,"hi":101.7,"t":"C-H"}]},"mark":{"type":"text","fontSize":7.5,"color":"#404040"},"encoding":{"text":{"field":"t","type":"nominal"}}},
{"data":{"values":[{"x":289.2,"hi":20,"t":"C=O"}]},"mark":{"type":"text","fontSize":7.5,"color":"#8c7e00"},"encoding":{"text":{"field":"t","type":"nominal"}}}
]
},
{
"width":148,"height":128,"data":{"name":"b2"},
"encoding":{
"x":{"field":"x","type":"quantitative","scale":{"domain":[540,525],"nice":false,"zero":false},"axis":{"values":[540,537.5,535,532.5,530,527.5,525],"labelExpr":"datum.value % 5 === 0 ? datum.label : ''","title":null}},
"y":{"field":"hi","type":"quantitative","scale":{"domain":[0,128],"nice":false,"zero":false},"axis":null}
},
"layer":[
{"transform":[{"filter":"datum.c==='bg'"}],"mark":{"type":"line","color":"#8a8a8a","strokeWidth":1.2}},
{"transform":[{"filter":"datum.c==='env'"}],"mark":{"type":"line","color":"#3cf2f2","strokeWidth":1.6,"interpolate":"monotone"}},
{"transform":[{"filter":"datum.c==='CO'"}],"mark":{"type":"area","interpolate":"monotone","fill":"#1fbf7f","stroke":"#0a6e0a","strokeWidth":0.9,"fillOpacity":1},"encoding":{"y2":{"field":"lo"}}},
{"transform":[{"filter":"datum.c==='CdO'"}],"mark":{"type":"area","interpolate":"monotone","fill":"#c9a02a","stroke":"#7d6a00","strokeWidth":0.9,"fillOpacity":1},"encoding":{"y2":{"field":"lo"}}},
{"data":{"values":[{"x":531.17,"hi":67.3,"t":"C-O"}]},"mark":{"type":"text","fontSize":7.5,"color":"#1e7e1e"},"encoding":{"text":{"field":"t","type":"nominal"}}},
{"data":{"values":[{"x":532.7,"hi":49.3,"t":"C=O"}]},"mark":{"type":"text","fontSize":7.5,"color":"#8c7e00"},"encoding":{"text":{"field":"t","type":"nominal"}}}
]
},
{
"width":149,"height":128,"data":{"name":"b3"},
"encoding":{
"x":{"field":"x","type":"quantitative","scale":{"domain":[697.2,677.8],"nice":false,"zero":false},"axis":{"values":[695,692.5,690,687.5,685,682.5,680],"labelExpr":"datum.value % 5 === 0 ? datum.label : ''","title":null}},
"y":{"field":"hi","type":"quantitative","scale":{"domain":[0,128],"nice":false,"zero":false},"axis":null}
},
"layer":[
{"transform":[{"filter":"datum.c==='bg'"}],"mark":{"type":"line","color":"#7a7a8a","strokeWidth":1.2}},
{"transform":[{"filter":"datum.c==='env'"}],"mark":{"type":"line","color":"#3cf2f2","strokeWidth":1.6,"interpolate":"monotone"}},
{"transform":[{"filter":"datum.c==='CF'"}],"mark":{"type":"area","interpolate":"monotone","fill":"#7a10f0","stroke":"#5000b0","strokeWidth":0.8,"fillOpacity":1},"encoding":{"y2":{"field":"lo"}}},
{"transform":[{"filter":"datum.c==='LiF'"}],"mark":{"type":"area","interpolate":"monotone","fill":"#f08020","stroke":"#c05a00","strokeWidth":0.8,"fillOpacity":1},"encoding":{"y2":{"field":"lo"}}},
{"data":{"values":[{"x":688.35,"hi":107.7,"t":"C-F"}]},"mark":{"type":"text","fontSize":7.5,"color":"#8a2be2"},"encoding":{"text":{"field":"t","type":"nominal"}}},
{"data":{"values":[{"x":684.57,"hi":70,"t":"LiF"}]},"mark":{"type":"text","fontSize":7.5,"color":"#f07a20"},"encoding":{"text":{"field":"t","type":"nominal"}}}
]
},
{
"width":147,"height":128,"data":{"name":"b4"},
"encoding":{
"x":{"field":"x","type":"quantitative","scale":{"domain":[210,190],"nice":false,"zero":false},"axis":{"values":[210,207.5,205,202.5,200,197.5,195,192.5,190],"labelExpr":"datum.value % 5 === 0 ? datum.label : ''","title":null}},
"y":{"field":"hi","type":"quantitative","scale":{"domain":[0,128],"nice":false,"zero":false},"axis":null}
},
"layer":[
{"transform":[{"filter":"datum.c==='bg'"}],"mark":{"type":"line","color":"#8a8a8a","strokeWidth":1.2}},
{"transform":[{"filter":"datum.c==='env'"}],"mark":{"type":"line","color":"#3cf2f2","strokeWidth":1.6,"interpolate":"monotone"}},
{"transform":[{"filter":"datum.c==='LiCl'"}],"mark":{"type":"area","interpolate":"monotone","fill":"#a5aaf5","stroke":"#1f1f8a","strokeWidth":1,"fillOpacity":1},"encoding":{"y2":{"field":"lo"}}},
{"transform":[{"filter":"datum.c==='CCl'"}],"mark":{"type":"area","interpolate":"monotone","fill":"#7b1350","stroke":"#4a0010","strokeWidth":1,"fillOpacity":1},"encoding":{"y2":{"field":"lo"}}},
{"data":{"values":[{"x":209.8,"hi":120,"t":"Cl 2p"}]},"mark":{"type":"text","fontSize":9.5,"align":"left","color":"#000000"},"encoding":{"text":{"field":"t","type":"nominal"}}},
{"data":{"values":[{"x":199.6,"hi":112.3,"t":"LiCl"}]},"mark":{"type":"text","fontSize":7.5,"color":"#2a2a9a"},"encoding":{"text":{"field":"t","type":"nominal"}}},
{"data":{"values":[{"x":201.4,"hi":70,"t":"C-Cl"}]},"mark":{"type":"text","fontSize":7.5,"color":"#9b1b1b"},"encoding":{"text":{"field":"t","type":"nominal"}}}
]
}
]
}
